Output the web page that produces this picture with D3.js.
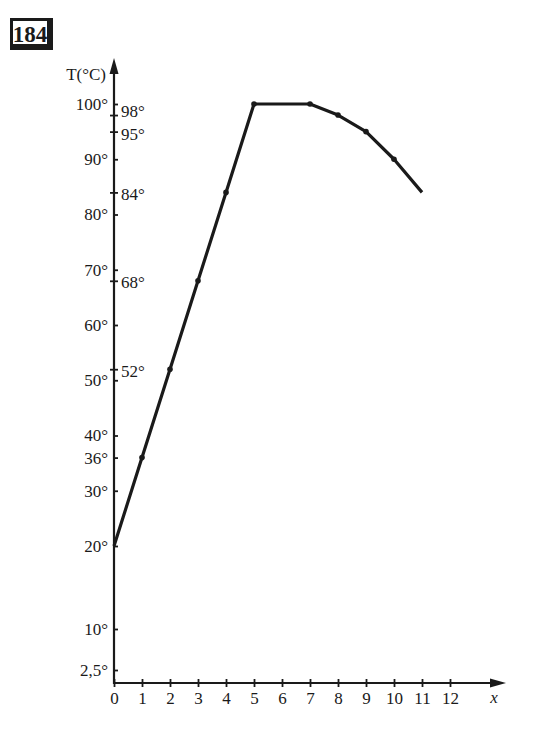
<!DOCTYPE html>
<html>
<head>
<meta charset="utf-8">
<style>
  body { margin: 0; background: #fff; }
  text { font-family: "Liberation Serif", "DejaVu Serif", serif; fill: #1a1a1a; }
  .axis .domain { display: none; }
  .axis line { stroke: #1a1a1a; stroke-width: 1.8; }
  .axis text { font-size: 17px; }
</style>
</head>
<body>
<svg width="550" height="748"></svg>
<script src="https://cdn.jsdelivr.net/npm/d3@7"></script>
<script>
  // data
  var hours = [0, 1, 2, 3, 4, 5, 6, 7, 8, 9, 10, 11];
  var temps = [20, 36, 52, 68, 84, 100, 100, 100, 98, 95, 90, 84];
  var dotted = [1, 2, 3, 4, 5, 7, 8, 9, 10];   // points drawn with a dot
  var leftTicks = [2.5, 10, 20, 30, 36, 40, 50, 60, 70, 80, 90, 100];
  var rightTicks = [52, 68, 84, 95, 98];
  var xTicks = [0, 1, 2, 3, 4, 5, 6, 7, 8, 9, 10, 11, 12];

  var svg = d3.select("svg");
  var ink = "#1a1a1a";

  // the book's axis is hand drawn, 0-20 is not even
  var x = d3.scaleLinear().domain([0, 12]).range([114, 450]);
  var y = d3.scaleLinear().domain([0, 2.5, 10, 20, 100]).range([683, 670, 629, 546, 104]);

  var deg = function(d) { return String(d).replace(".", ",") + "°"; };

  // number box
  var box = svg.append("g");
  box.append("rect").attr("x", 10).attr("y", 18).attr("width", 43).attr("height", 32).attr("fill", ink);
  box.append("rect").attr("x", 13).attr("y", 21).attr("width", 34).attr("height", 23).attr("fill", "#fff");
  box.append("text").attr("x", 30).attr("y", 41.5)
    .attr("text-anchor", "middle")
    .style("font-size", "23px").style("font-weight", "bold")
    .text("184");

  // axes lines with arrows
  svg.append("line").attr("x1", x(0)).attr("y1", 684).attr("x2", x(0)).attr("y2", 66)
    .attr("stroke", ink).attr("stroke-width", 2.2);
  svg.append("path").attr("d", "M114,58 L109.5,74 L118.5,74 Z").attr("fill", ink);
  svg.append("line").attr("x1", x(0)).attr("y1", 683).attr("x2", 498).attr("y2", 683)
    .attr("stroke", ink).attr("stroke-width", 2.2);
  svg.append("path").attr("d", "M506,683 L490,678.5 L490,687.5 Z").attr("fill", ink);

  // left ticks
  var gl = svg.append("g").attr("class", "axis")
    .attr("transform", "translate(" + x(0) + ",0)")
    .call(d3.axisLeft(y).tickValues(leftTicks).tickFormat(deg).tickSize(4).tickPadding(2));
  gl.selectAll(".tick line").attr("x2", 4);

  // right ticks (98 and 95 sit close, spread their labels a bit)
  var gr = svg.append("g").attr("class", "axis")
    .attr("transform", "translate(" + x(0) + ",0)")
    .call(d3.axisRight(y).tickValues(rightTicks).tickFormat(deg).tickSize(4).tickPadding(3));
  gr.selectAll(".tick line").attr("x2", -4).attr("x1", 4);
  gr.selectAll(".tick text").attr("dy", function(d) {
    return d === 98 ? "0.1em" : d === 95 ? "0.45em" : "0.42em";
  });

  // x ticks
  var gx = svg.append("g").attr("class", "axis")
    .attr("transform", "translate(0,683)")
    .call(d3.axisBottom(x).tickValues(xTicks).tickFormat(d3.format("d")).tickSize(4).tickPadding(5));
  gx.selectAll(".tick line").attr("y1", -4);

  // axis names
  svg.append("text").attr("x", 106).attr("y", 80).attr("text-anchor", "end")
    .style("font-size", "17px").text("T(°C)");
  svg.append("text").attr("x", 494).attr("y", 703).attr("text-anchor", "middle")
    .style("font-size", "17px").style("font-style", "italic").text("x");

  // curve
  var pts = hours.map(function(h, i) { return [h, temps[i]]; });
  svg.append("path").datum(pts)
    .attr("fill", "none").attr("stroke", ink).attr("stroke-width", 3.2)
    .attr("stroke-linejoin", "round")
    .attr("d", d3.line().x(function(d) { return x(d[0]); }).y(function(d) { return y(d[1]); }));

  svg.selectAll(".dot").data(pts.filter(function(d) { return dotted.indexOf(d[0]) >= 0; }))
    .enter().append("circle").attr("class", "dot")
    .attr("cx", function(d) { return x(d[0]); })
    .attr("cy", function(d) { return y(d[1]); })
    .attr("r", 2.8).attr("fill", ink);
</script>
</body>
</html>
